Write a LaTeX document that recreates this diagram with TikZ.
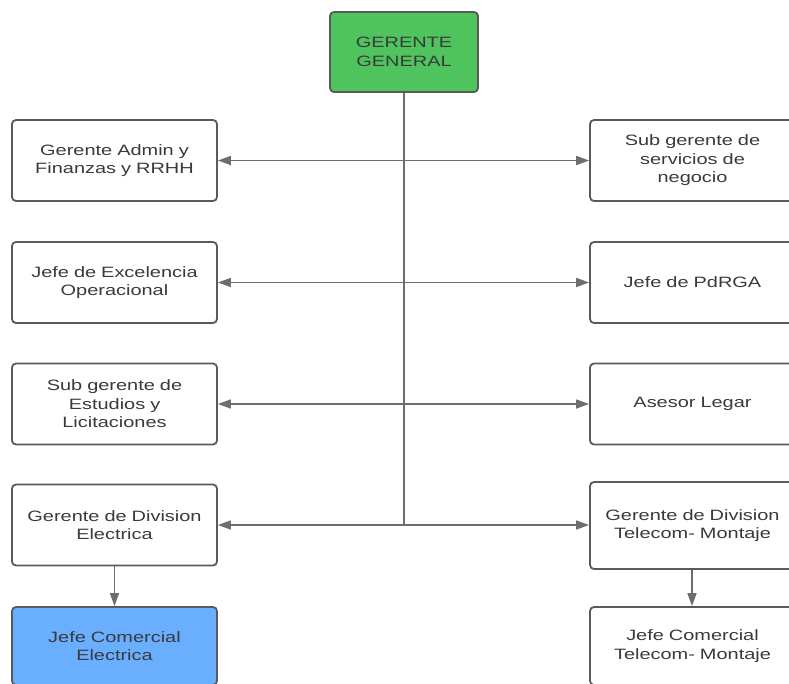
\documentclass[tikz,border=0pt]{standalone}
\usepackage{fontspec}
\setmainfont[FakeStretch=1.33]{Liberation Sans}
\usetikzlibrary{arrows.meta}
\definecolor{boxline}{HTML}{5A5A5A}
\definecolor{conn}{HTML}{6E6E6E}
\definecolor{txt}{HTML}{3A3A3A}
\definecolor{topgreen}{HTML}{4FC35E}
\definecolor{lightblue}{HTML}{69AEFF}
\tikzset{
  orgbox/.style={draw=boxline, line width=1.8pt, rounded corners=4pt, fill=white,
    minimum width=205pt, minimum height=81pt, align=center, text=txt,
    font=\fontsize{15}{18.5}\selectfont, inner sep=0pt, text width=200pt},
  conline/.style={draw=conn, line width=1.6pt},
  tip/.style={-{Triangle[length=13pt,width=9pt]}},
  both/.style={{Triangle[length=13pt,width=9pt]}-{Triangle[length=13pt,width=9pt]}}
}
\begin{document}
\begin{tikzpicture}[x=1pt,y=-1pt]
\useasboundingbox (0,0) rectangle (789,683);
\clip (0,0) rectangle (789,683);
\node[orgbox, fill=topgreen, minimum width=148pt, minimum height=80pt, text width=146pt] (gg) at (404,52) {GERENTE\\GENERAL};
\node[orgbox] (l1) at (114.5,160.5) {Gerente Admin y\\Finanzas y RRHH};
\node[orgbox] (l2) at (114.5,282.5) {Jefe de Excelencia\\Operacional};
\node[orgbox] (l3) at (114.5,404) {Sub gerente de\\Estudios y\\Licitaciones};
\node[orgbox] (l4) at (114.5,525) {Gerente de Division\\Electrica};
\node[orgbox, fill=lightblue, minimum height=78pt] (l5) at (114.5,646) {Jefe Comercial\\Electrica};
\node[orgbox] (r1) at (692.5,160.5) {Sub gerente de\\servicios de\\negocio};
\node[orgbox] (r2) at (692.5,282.5) {Jefe de PdRGA};
\node[orgbox] (r3) at (692.5,404) {Asesor Legar};
\node[orgbox, minimum height=87pt] (r4) at (692.5,525.5) {Gerente de Division\\Telecom- Montaje};
\node[orgbox, minimum height=78pt] (r5) at (692.5,646) {Jefe Comercial\\Telecom- Montaje};
\coordinate (j4) at (404,525);
\draw[conline] (gg.south) -- (j4);
\draw[conline, both] (l1.east) -- (r1.west);
\draw[conline, both] (l2.east) -- (r2.west);
\draw[conline, both] (l3.east) -- (r3.west);
\draw[conline, both] (l4.east) -- (r4.west |- l4.east);
\draw[conline, tip] (l4.south) -- (l5.north);
\draw[conline, tip] (r4.south -| 692,0) -- (r5.north -| 692,0);
\end{tikzpicture}
\end{document}
